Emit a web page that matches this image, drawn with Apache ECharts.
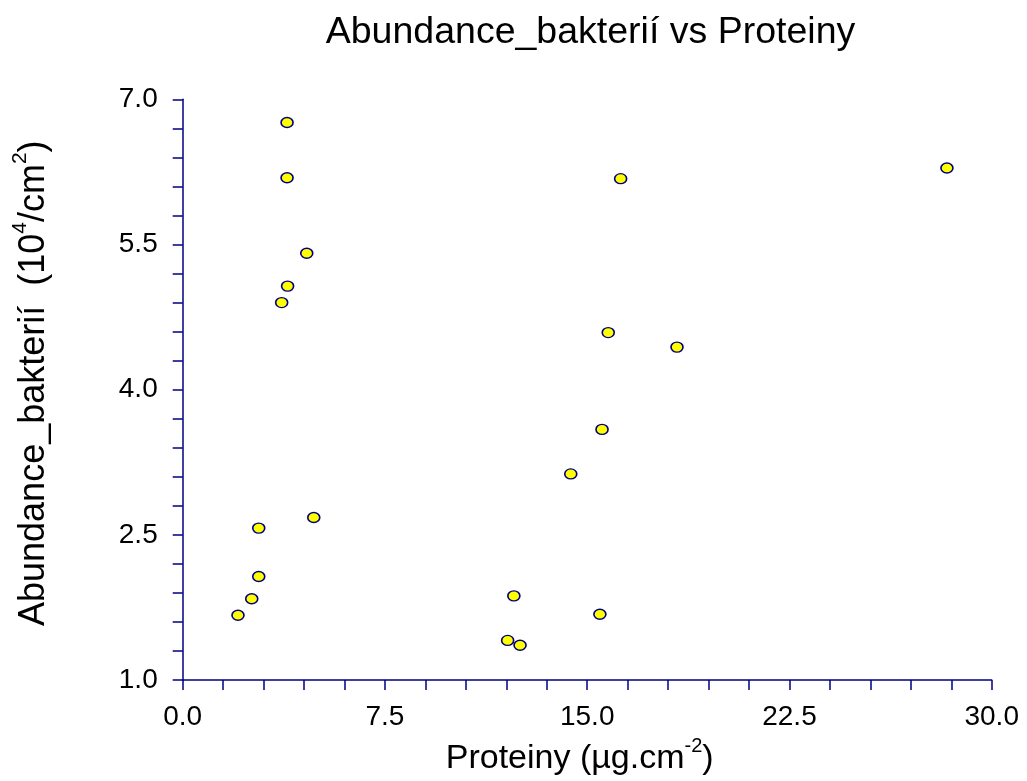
<!DOCTYPE html>
<html>
<head>
<meta charset="utf-8">
<script src="https://cdn.jsdelivr.net/npm/echarts@6/dist/echarts.min.js"></script>
<style>html,body{margin:0;padding:0;background:#fff;}#c{width:1027px;height:781px;}</style>
</head>
<body>
<div id="c"></div>
<script>
const proteiny = [3.87, 3.87, 4.60, 3.89, 3.67, 4.86, 2.82, 2.82, 2.56, 2.05,
                  28.34, 16.24, 15.78, 18.33, 15.55, 14.39, 12.28, 15.47, 12.05, 12.51];
const abundance = [6.76, 6.19, 5.41, 5.07, 4.90, 2.68, 2.57, 2.07, 1.84, 1.67,
                   6.29, 6.18, 4.59, 4.44, 3.59, 3.13, 1.87, 1.68, 1.41, 1.36];
const xTicks = [0.0, 7.5, 15.0, 22.5, 30.0];
const yTicks = [1.0, 2.5, 4.0, 5.5, 7.0];
const titleText = 'Abundance_bakterií vs Proteiny';

const font = 'Liberation Sans, Arial, sans-serif';
const axisColor = '#000080';
const points = proteiny.map((x, i) => [x, abundance[i]]);

const xNameRich = {
  b: {fontFamily: font, fontSize: 34, color: '#000', lineHeight: 40, verticalAlign: 'bottom'},
  s: {fontFamily: font, fontSize: 20, color: '#000', lineHeight: 40, verticalAlign: 'top'}
};
const yNameRich = {
  b: {fontFamily: font, fontSize: 36, color: '#000', lineHeight: 42, verticalAlign: 'bottom'},
  s: {fontFamily: font, fontSize: 21, color: '#000', lineHeight: 42, verticalAlign: 'top'}
};

const chart = echarts.init(document.getElementById('c'), null, {renderer: 'canvas'});
chart.setOption({
  animation: false,
  backgroundColor: '#ffffff',
  title: {
    text: titleText, left: 585.5, top: 9, textAlign: 'center',
    textStyle: {fontFamily: font, fontSize: 37.5, fontWeight: 'normal', color: '#000'}
  },
  grid: {left: 182.7, right: 35.3, top: 99.3, bottom: 99, containLabel: false},
  xAxis: {
    type: 'value', min: xTicks[0], max: xTicks[xTicks.length - 1], interval: 7.5,
    name: '{b|Proteiny (µg.cm}{s|-2}{b|)}',
    nameLocation: 'middle', nameGap: 52,
    nameTextStyle: {padding: [0, 15, 0, 0], rich: xNameRich},
    axisLine: {show: true, lineStyle: {color: axisColor, width: 1.5}},
    axisTick: {show: true, inside: false, length: 10, lineStyle: {color: axisColor, width: 1.5}},
    minorTick: {show: true, splitNumber: 5, length: 10, lineStyle: {color: axisColor, width: 1.5}},
    splitLine: {show: false},
    axisLabel: {
      margin: 23, fontFamily: font, fontSize: 28, color: '#000',
      formatter: v => v.toFixed(1)
    }
  },
  yAxis: {
    type: 'value', min: yTicks[0], max: yTicks[yTicks.length - 1], interval: 1.5,
    name: '{b|Abundance_bakterií  (10}{s|4}{b|/cm}{s|2}{b|)}',
    nameLocation: 'middle', nameGap: 131, nameRotate: 90,
    nameTextStyle: {padding: [0, 0, 0, 13], rich: yNameRich},
    axisLine: {show: true, lineStyle: {color: axisColor, width: 1.5}},
    axisTick: {show: true, inside: false, length: 10, lineStyle: {color: axisColor, width: 1.5}},
    minorTick: {show: true, splitNumber: 5, length: 10, lineStyle: {color: axisColor, width: 1.5}},
    splitLine: {show: false},
    axisLabel: {
      margin: 25, fontFamily: font, fontSize: 28, color: '#000',
      formatter: v => v.toFixed(1)
    }
  },
  series: [{
    type: 'scatter',
    data: points,
    symbol: 'circle',
    symbolSize: [12, 10],
    itemStyle: {color: '#ffff00', borderColor: '#000080', borderWidth: 1.5, opacity: 1}
  }]
});
</script>
</body>
</html>
